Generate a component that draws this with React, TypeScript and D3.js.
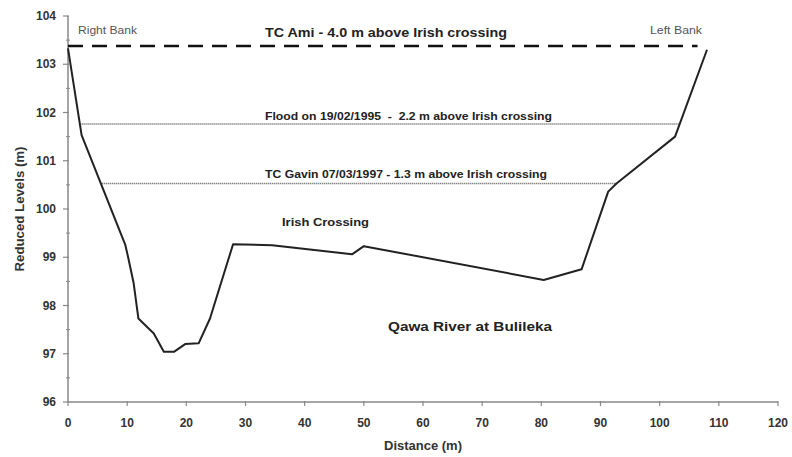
import React from "react";
import * as d3 from "d3";

const distance = [0, 2.3, 9.7, 10.2, 11.1, 11.9, 14.5, 16.2, 17.9, 19.8, 22.1, 24, 27.9, 34.5, 48, 50, 80.4, 86.8, 91.3, 92.7, 102.6, 108];
const level = [103.33, 101.53, 99.25, 98.98, 98.46, 97.73, 97.42, 97.04, 97.04, 97.2, 97.22, 97.73, 99.27, 99.25, 99.06, 99.23, 98.53, 98.75, 100.36, 100.53, 101.5, 103.3];

const xTicks = [0, 10, 20, 30, 40, 50, 60, 70, 80, 90, 100, 110, 120];
const yTicks = [96, 97, 98, 99, 100, 101, 102, 103, 104];
const yMinor = [96.5, 97.5, 98.5, 99.5, 100.5, 101.5, 102.5, 103.5];

const amiLevel = 103.38;
const amiRange = [0, 106.4];
const floodLevel = 101.76;
const floodRange = [2.3, 103.2];
const gavinLevel = 100.53;
const gavinRange = [5.7, 92.7];

const W = 792, H = 457;
const m = { left: 68, right: 14, top: 16, bottom: 55 };

export default function App() {
  const x = d3.scaleLinear().domain([0, 120]).range([m.left, W - m.right]);
  const y = d3.scaleLinear().domain([96, 104]).range([H - m.bottom, m.top]);
  const pts = distance.map((d, i) => [d, level[i]] as [number, number]);
  const line = d3.line<[number, number]>().x(d => x(d[0])).y(d => y(d[1]));
  const font = "'Liberation Sans', Arial, sans-serif";
  const tc = "#333";
  const axisC = "#888";
  const adj = "spacingAndGlyphs";
  return (
    <svg width={W} height={H} style={{ position: "absolute", left: 0, top: 0, background: "#fff" }} fontFamily={font}>
      {/* axes */}
      <line x1={x(0)} x2={x(0)} y1={y(96)} y2={y(104)} stroke={axisC} strokeWidth={1.5} />
      <line x1={x(0)} x2={x(120)} y1={y(96)} y2={y(96)} stroke={axisC} strokeWidth={1.5} />
      {yTicks.map(t => (
        <g key={"y" + t}>
          <line x1={x(0) - 5} x2={x(0) + 1} y1={y(t)} y2={y(t)} stroke={axisC} strokeWidth={1.2} />
          <text x={x(0) - 12} y={y(t)} dy="0.35em" textAnchor="end" fontSize={12} fontWeight="bold" fill={tc}>{t}</text>
        </g>
      ))}
      {yMinor.map(t => (
        <line key={"ym" + t} x1={x(0) - 2} x2={x(0) + 2} y1={y(t)} y2={y(t)} stroke={axisC} strokeWidth={1} />
      ))}
      {xTicks.map(t => (
        <g key={"x" + t}>
          <line x1={x(t)} x2={x(t)} y1={y(96) - 1} y2={y(96) + 4} stroke={axisC} strokeWidth={1.2} />
          <text x={x(t)} y={y(96) + 25} textAnchor="middle" fontSize={12} fontWeight="bold" fill={tc}>{t}</text>
        </g>
      ))}
      <text x={423} y={H - 7} textAnchor="middle" fontSize={12} fontWeight="bold" fill={tc} textLength={78} lengthAdjust={adj}>Distance (m)</text>
      <text transform={`translate(24, 209) rotate(-90)`} textAnchor="middle" fontSize={12} fontWeight="bold" fill={tc} textLength={125} lengthAdjust={adj}>Reduced Levels (m)</text>

      {/* reference levels */}
      <line x1={x(amiRange[0])} x2={x(amiRange[1])} y1={y(amiLevel)} y2={y(amiLevel)} stroke="#111" strokeWidth={2.5} strokeDasharray="15,9" />
      <line x1={x(floodRange[0])} x2={x(floodRange[1])} y1={y(floodLevel)} y2={y(floodLevel)} stroke="#555" strokeWidth={1.5} strokeDasharray="1,1" />
      <line x1={x(gavinRange[0])} x2={x(gavinRange[1])} y1={y(gavinLevel)} y2={y(gavinLevel)} stroke="#555" strokeWidth={1.5} strokeDasharray="1,1" />

      {/* profile */}
      <path d={line(pts) || ""} fill="none" stroke="#222" strokeWidth={2} strokeLinejoin="round" />

      {/* labels */}
      <text x={78} y={34} fontSize={10.5} fill="#555" textLength={59} lengthAdjust={adj}>Right Bank</text>
      <text x={650} y={34} fontSize={10.5} fill="#555" textLength={52} lengthAdjust={adj}>Left Bank</text>
      <text x={265} y={37} fontSize={13.5} fontWeight="bold" fill="#222" textLength={242} lengthAdjust={adj}>TC Ami - 4.0 m above Irish crossing</text>
      <text x={265} y={120} fontSize={10.5} fontWeight="bold" fill="#222" xmlSpace="preserve" textLength={287} lengthAdjust={adj}>Flood on 19/02/1995  -  2.2 m above Irish crossing</text>
      <text x={265} y={178} fontSize={10.5} fontWeight="bold" fill="#222" textLength={282} lengthAdjust={adj}>TC Gavin 07/03/1997 - 1.3 m above Irish crossing</text>
      <text x={282} y={226} fontSize={11.5} fontWeight="bold" fill="#222" textLength={87} lengthAdjust={adj}>Irish Crossing</text>
      <text x={388} y={331} fontSize={13.5} fontWeight="bold" fill="#222" textLength={164} lengthAdjust={adj}>Qawa River at Bulileka</text>
    </svg>
  );
}
